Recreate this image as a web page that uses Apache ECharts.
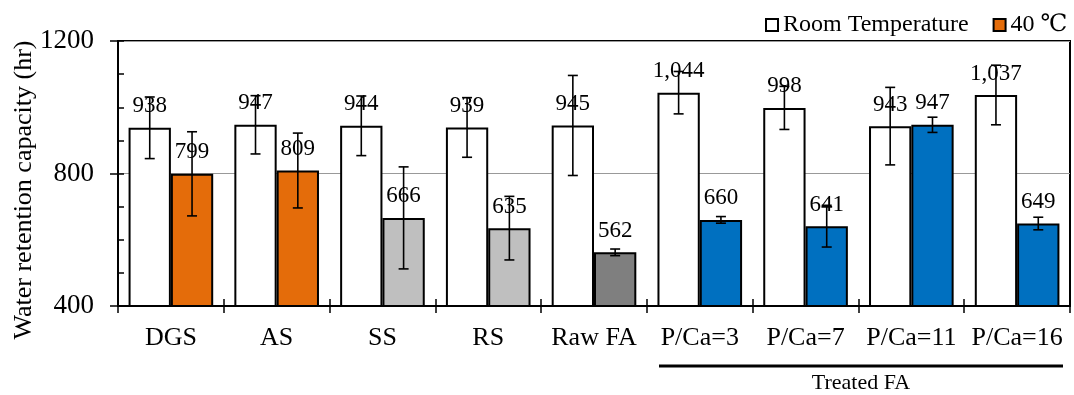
<!DOCTYPE html>
<html>
<head>
<meta charset="utf-8">
<script src="https://cdn.jsdelivr.net/npm/echarts@6/dist/echarts.min.js"></script>
<style>html,body{margin:0;padding:0;background:#fff;}#c{width:1074px;height:395px;}</style>
</head>
<body>
<div id="c"></div>
<script>
const categories = ['DGS', 'AS', 'SS', 'RS', 'Raw FA', 'P/Ca=3', 'P/Ca=7', 'P/Ca=11', 'P/Ca=16'];
const roomValues = [938, 947, 944, 939, 945, 1044, 998, 943, 1037];
const roomErrors = [93, 88, 90, 90, 151, 64, 65, 117, 90];
const hotValues = [799, 809, 666, 635, 562, 660, 641, 947, 649];
const hotErrors = [127, 113, 154, 96, 10, 10, 63, 23, 19];
const hotColors = ['#E46C0A', '#E46C0A', '#BFBFBF', '#BFBFBF', '#7F7F7F', '#0070C0', '#0070C0', '#0070C0', '#0070C0'];
const seriesNames = ['Room Temperature', '40 \u2103'];
const yTitle = 'Water retention capacity (hr)';
const groupLabel = 'Treated FA';

const FONT = '"Liberation Serif", "Times New Roman", "DejaVu Serif", serif';
const chart = echarts.init(document.getElementById('c'), null, {renderer: 'canvas'});

function errRender(side) {
  return function (params, api) {
    const i = api.value(0), v = api.value(1), e = api.value(2);
    const band = api.size([1, 0])[0];
    const x = api.coord([i, v])[0] + side * band * 0.2;
    const yt = api.coord([i, v + e])[1];
    const yb = api.coord([i, v - e])[1];
    const cap = 5;
    const st = {stroke: '#000', lineWidth: 1.6};
    return {type: 'group', children: [
      {type: 'line', shape: {x1: x, y1: yt, x2: x, y2: yb}, style: st},
      {type: 'line', shape: {x1: x - cap, y1: yt, x2: x + cap, y2: yt}, style: st},
      {type: 'line', shape: {x1: x - cap, y1: yb, x2: x + cap, y2: yb}, style: st}
    ]};
  };
}

const labelCfg = {
  show: true, position: 'top', distance: 10, color: '#000',
  fontFamily: FONT, fontSize: 23,
  formatter: p => p.value.toLocaleString('en-US')
};

chart.setOption({
  animation: false,
  backgroundColor: '#fff',
  grid: {left: 118, right: 4, top: 41, bottom: 89, show: true, borderColor: '#000', borderWidth: 2, backgroundColor: 'transparent'},
  legend: {
    data: seriesNames, left: 760, top: 8, icon: 'rect', itemWidth: 12, itemHeight: 12, itemGap: 24,
    textStyle: {fontFamily: FONT, fontSize: 24, color: '#000'}
  },
  xAxis: [{
    type: 'category', data: categories, position: 'bottom',
    axisLine: {lineStyle: {color: '#000', width: 2}},
    axisTick: {show: true, length: 7, lineStyle: {color: '#000', width: 1.5}},
    axisLabel: {margin: 19, color: '#000', fontFamily: FONT, fontSize: 26, interval: 0},
    splitLine: {show: false}
  }, {
    type: 'category', data: categories, position: 'bottom', gridIndex: 0,
    axisLine: {show: false},
    axisTick: {show: true, inside: true, length: 7, lineStyle: {color: '#000', width: 1.5}},
    axisLabel: {show: false}, splitLine: {show: false}
  }],
  yAxis: [{
    type: 'value', min: 400, max: 1200, interval: 400,
    axisLine: {show: true, lineStyle: {color: '#000', width: 2}},
    axisTick: {show: true, length: 8, lineStyle: {color: '#000', width: 1.5}},
    axisLabel: {margin: 24, color: '#000', fontFamily: FONT, fontSize: 27, formatter: v => String(v)},
    splitLine: {show: true, lineStyle: {color: '#999', width: 1}}
  }, {
    type: 'value', min: 400, max: 1200, interval: 100, position: 'left',
    axisLine: {show: false},
    axisTick: {show: true, inside: true, length: 6, lineStyle: {color: '#000', width: 1.5}},
    axisLabel: {show: false}, splitLine: {show: false}
  }],
  graphic: [
    {type: 'text', x: 24, y: 190, rotation: Math.PI / 2,
     style: {text: yTitle, font: '26px ' + FONT, fill: '#000', textAlign: 'center', textVerticalAlign: 'middle'}},
    {type: 'line', shape: {x1: 659, y1: 366, x2: 1063, y2: 366}, style: {stroke: '#000', lineWidth: 3}},
    {type: 'text', x: 861, y: 383,
     style: {text: groupLabel, font: '22px ' + FONT, fill: '#000', textAlign: 'center', textVerticalAlign: 'middle'}}
  ],
  series: [{
    name: seriesNames[0], type: 'bar', data: roomValues, barWidth: '40%', barGap: '0%', z: 2,
    itemStyle: {color: '#fff', borderColor: '#000', borderWidth: 2},
    label: labelCfg
  }, {
    name: seriesNames[1], type: 'bar', z: 2,
    data: hotValues.map((v, i) => ({value: v, itemStyle: {color: hotColors[i]}})),
    barWidth: '40%', barGap: '0%',
    itemStyle: {color: '#E46C0A', borderColor: '#000', borderWidth: 2},
    label: labelCfg
  }, {
    name: 'errRoom', type: 'custom', z: 10, renderItem: errRender(-1),
    data: roomValues.map((v, i) => [i, v, roomErrors[i]]), encode: {x: 0, y: 1}, silent: true
  }, {
    name: 'errHot', type: 'custom', z: 10, renderItem: errRender(1),
    data: hotValues.map((v, i) => [i, v, hotErrors[i]]), encode: {x: 0, y: 1}, silent: true
  }]
});
</script>
</body>
</html>
